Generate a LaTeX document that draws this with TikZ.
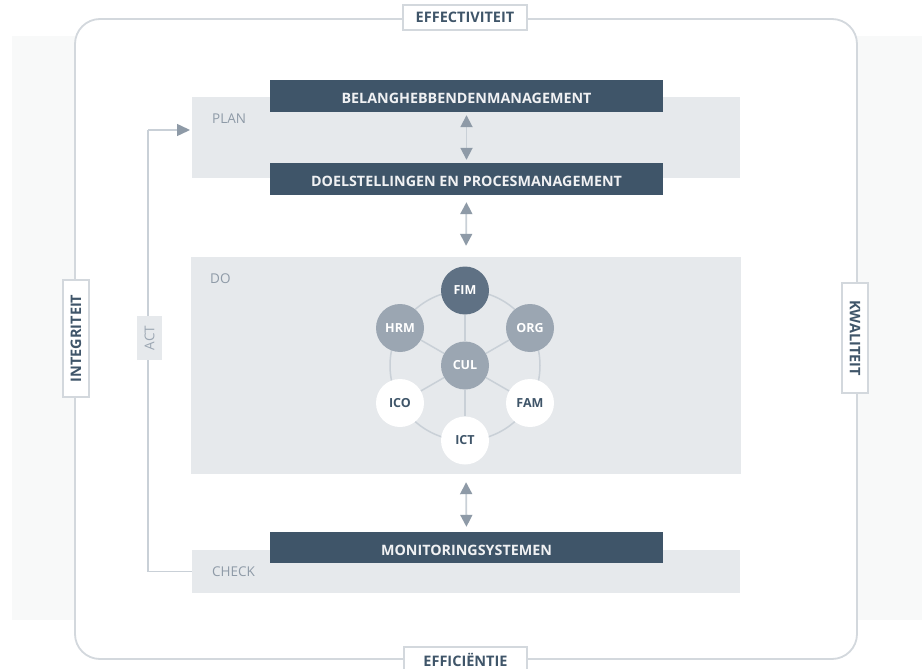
\documentclass[tikz,border=0pt]{standalone}
\usepackage{fontspec}
\setmainfont{Open Sans}
\usetikzlibrary{arrows.meta}
\definecolor{darkbox}{HTML}{3F5569}
\definecolor{bandc}{HTML}{E6E9EC}
\definecolor{bgband}{HTML}{F8F9F9}
\definecolor{outl}{HTML}{D3D8DD}
\definecolor{ringc}{HTML}{C9D0D7}
\definecolor{tipc}{HTML}{8E9AA7}
\definecolor{fimc}{HTML}{5F7184}
\definecolor{midc}{HTML}{9BA6B2}
\definecolor{lightt}{HTML}{8E9AA7}
\tikzset{
  band/.style={fill=bandc, draw=none, rectangle, inner sep=0pt},
  darkbar/.style={fill=darkbox, draw=none, rectangle, inner sep=0pt, minimum width=393pt, minimum height=32pt, text height=15pt, text depth=0pt, text=white!92!darkbox, font=\bfseries\fontsize{14.3}{16}\selectfont},
  lbl/.style={fill=white, draw=outl, line width=1.2pt, rectangle, inner sep=0pt, text=darkbox, font=\bfseries\fontsize{14.5}{16}\selectfont},
  phase/.style={text=lightt, font=\fontsize{13.5}{15}\selectfont, anchor=base west, inner sep=0pt},
  circ/.style={circle, minimum size=48pt, inner sep=0pt, draw=none, font=\bfseries\fontsize{12.5}{14}\selectfont},
  darkc/.style={circ, text=white},
  whitec/.style={circ, fill=white, text=darkbox},
  ringl/.style={draw=ringc, line width=1.5pt},
  dbl/.style={draw=ringc, line width=1.8pt, {Triangle[width=12pt,length=12pt,color=tipc]}-{Triangle[width=12pt,length=12pt,color=tipc]}},
  actline/.style={draw=ringc, line width=1.5pt},
}
\begin{document}
\begin{tikzpicture}[x=1pt,y=-1pt]
\useasboundingbox (0,0) rectangle (922,669);
\fill[white] (0,0) rectangle (922,669);
\fill[bgband] (12,36) rectangle (922,620);
\draw[draw=outl, line width=1.8pt, fill=white, rounded corners=25pt] (75,19) rectangle (857,659);

% labels on frame
\node[lbl, minimum width=124pt, minimum height=25pt] (eff) at (465,17.5) {EFFECTIVITEIT};
\node[lbl, minimum width=123pt, minimum height=25pt] (effi) at (465.5,659.5) {EFFICIËNTIE};
\node[lbl, minimum width=117pt, minimum height=26pt, rotate=90] (integ) at (76,338.5) {INTEGRITEIT};
\node[lbl, minimum width=110pt, minimum height=26pt, rotate=-90] (kwal) at (855,338) {KWALITEIT};

% bands
\node[band, minimum width=548pt, minimum height=81pt] (plan) at (466,137.5) {};
\node[band, minimum width=550pt, minimum height=217pt] (do) at (466,365.5) {};
\node[band, minimum width=548pt, minimum height=43pt] (check) at (466,571.5) {};
\node[phase] (plant) at (212,123.5) {PLAN};
\node[phase] (dot) at (210,283.5) {DO};
\node[phase] (checkt) at (212,576.5) {CHECK};

% dark bars
\node[darkbar] (bel) at (466.5,96) {BELANGHEBBENDENMANAGEMENT};
\node[darkbar] (doel) at (466.5,179) {DOELSTELLINGEN EN PROCESMANAGEMENT};
\node[darkbar, minimum height=31pt] (mon) at (466.5,547.5) {MONITORINGSYSTEMEN};

% arrows between
\draw[dbl, shorten <=3pt, shorten >=3pt] (bel.south) -- (doel.north);
\draw[dbl, shorten <=7pt, shorten >=11pt] (doel.south) -- (do.north);
\draw[dbl, shorten <=8pt, shorten >=5pt] (do.south) -- (mon.north);

% ACT loop
\coordinate (actbl) at (148,571.5);
\coordinate (acttl) at (148,130);
\coordinate (actin) at (190,130);
\draw[actline] (check.west) -- (actbl) -- (acttl);
\draw[actline, -{Triangle[width=12pt,length=13pt,color=tipc]}] (acttl) -- (actin);
\node[fill=bandc, draw=none, minimum width=44pt, minimum height=25pt, inner sep=0pt, rotate=90, text=midc, font=\fontsize{13.5}{15}\selectfont] (act) at (149.5,338) {ACT};

% hexagon of circles
\coordinate (ctr) at (465,365.5);
\draw[ringl] (ctr) circle[radius=75pt];
\node[darkc, fill=fimc] (fim) at (465,290.5) {FIM};
\node[darkc, fill=midc] (hrm) at (400,328) {HRM};
\node[darkc, fill=midc] (org) at (530,328) {ORG};
\node[darkc, fill=midc] (cul) at (465,365.5) {CUL};
\node[whitec] (ico) at (400,403) {ICO};
\node[whitec] (fam) at (530,403) {FAM};
\node[whitec] (ict) at (465,440.5) {ICT};
\foreach \n in {fim,hrm,org,ico,fam,ict} \draw[ringl] (cul) -- (\n);
\end{tikzpicture}
\end{document}
